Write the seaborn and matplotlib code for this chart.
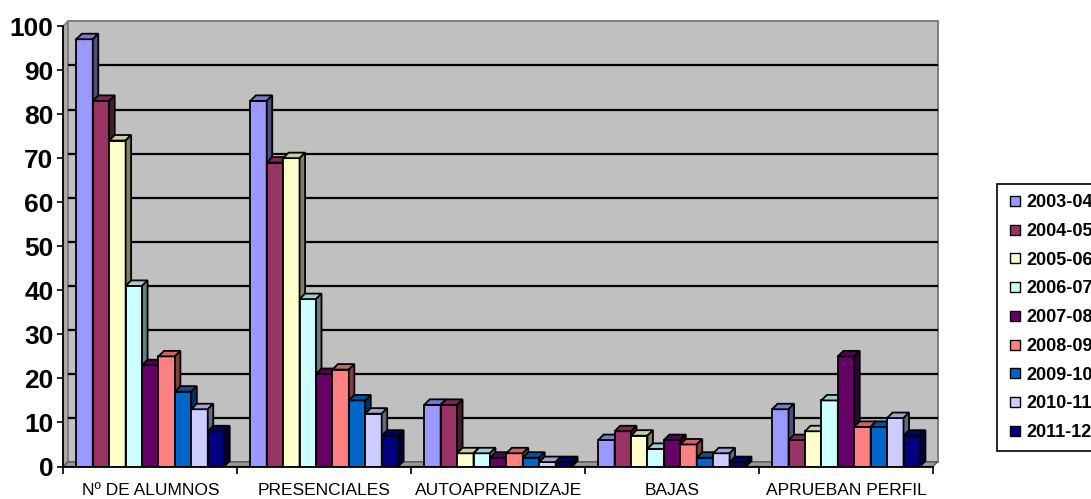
import numpy as np
import pandas as pd
import matplotlib
matplotlib.use("Agg")
import matplotlib.pyplot as plt
from matplotlib.patches import Polygon, Rectangle
from matplotlib.lines import Line2D
from matplotlib.colors import to_rgb
import seaborn as sns

# ---- data ----
categories = ["Nº DE ALUMNOS", "PRESENCIALES", "AUTOAPRENDIZAJE", "BAJAS", "APRUEBAN PERFIL"]
courses = ["2003-04", "2004-05", "2005-06", "2006-07", "2007-08",
           "2008-09", "2009-10", "2010-11", "2011-12"]
v_2003_04 = [97, 83, 14, 6, 13]
v_2004_05 = [83, 69, 14, 8, 6]
v_2005_06 = [74, 70, 3, 7, 8]
v_2006_07 = [41, 38, 3, 4, 15]
v_2007_08 = [23, 21, 2, 6, 25]
v_2008_09 = [25, 22, 3, 5, 9]
v_2009_10 = [17, 15, 2, 2, 9]
v_2010_11 = [13, 12, 1, 3, 11]
v_2011_12 = [8, 7, 1, 1, 7]
series = [v_2003_04, v_2004_05, v_2005_06, v_2006_07, v_2007_08,
          v_2008_09, v_2009_10, v_2010_11, v_2011_12]
y_ticks = [0, 10, 20, 30, 40, 50, 60, 70, 80, 90, 100]

colors = ["#9999FF", "#993366", "#FFFFCC", "#CCFFFF", "#660066",
          "#FF8080", "#0066CC", "#CCCCFF", "#000080"]

rows = []
for course, vals in zip(courses, series):
    for cat, v in zip(categories, vals):
        rows.append({"categoria": cat, "curso": course, "valor": v})
df = pd.DataFrame(rows)

plt.rcParams["font.family"] = ["Liberation Sans", "DejaVu Sans"]

W, H = 1091, 499
fig = plt.figure(figsize=(W / 100, H / 100), dpi=100)
ax_left, ax_right, ax_bottom, ax_top = 63.3, 933.0, 466.5, 26.0
ax = fig.add_axes([ax_left / W, (H - ax_bottom) / H,
                   (ax_right - ax_left) / W, (ax_bottom - ax_top) / H])
ax.set_facecolor("none")

sns.barplot(data=df, x="categoria", y="valor", hue="curso", order=categories,
            hue_order=courses, palette=colors, saturation=1, width=0.85, gap=0,
            edgecolor="black", linewidth=1.3, legend=False, ax=ax)
bars = sorted([p for p in ax.patches if isinstance(p, Rectangle)],
              key=lambda p: p.get_x())

ax.set_xlim(-0.5, 4.5)
ax.set_ylim(0, 100)


def px_to_data(dx, dy):
    p0 = ax.transData.transform((0, 0))
    q = ax.transData.inverted().transform(p0 + np.array([dx, dy]))
    return q[0], q[1]


# walls and floor of the 3D box
wdx, wdy = px_to_data(4.5, 4.6)
wall_edge = "#7F7F7F"
ax.add_patch(Rectangle((-0.5 + wdx, wdy), 5, 100, facecolor="#C0C0C0",
                       edgecolor=wall_edge, linewidth=1.4, zorder=0.1, clip_on=False))
ax.add_patch(Polygon([(-0.5, 0), (-0.5, 100), (-0.5 + wdx, 100 + wdy), (-0.5 + wdx, wdy)],
                     closed=True, facecolor="#ABABAB", edgecolor=wall_edge,
                     linewidth=1.2, zorder=0.15, clip_on=False))
for v in y_ticks[1:-1]:
    ax.plot([-0.5 + wdx, 4.5 + wdx], [v + wdy, v + wdy], color="black",
            linewidth=1.6, zorder=0.2, clip_on=False, solid_capstyle="butt")
ax.add_patch(Polygon([(-0.5, 0), (4.5, 0), (4.5 + wdx, wdy), (-0.5 + wdx, wdy)],
                     closed=True, facecolor="#999999", edgecolor="#555555",
                     linewidth=1.0, zorder=0.3, clip_on=False))


def shade(c, f):
    r, g, b = to_rgb(c)
    return (r * f, g * f, b * f)


# depth faces for each column
bdx, bdy = px_to_data(5.5, 5.5)
for i, p in enumerate(bars):
    x0, w, h = p.get_x(), p.get_width(), p.get_height()
    fc = p.get_facecolor()
    z = 2 + i * 0.01
    p.set_zorder(z)
    top = Polygon([(x0, h), (x0 + w, h), (x0 + w + bdx, h + bdy), (x0 + bdx, h + bdy)],
                  closed=True, facecolor=shade(fc, 0.8), edgecolor="black",
                  linewidth=1.3, zorder=z, clip_on=False)
    side = Polygon([(x0 + w, 0), (x0 + w, h), (x0 + w + bdx, h + bdy), (x0 + w + bdx, bdy)],
                   closed=True, facecolor=shade(fc, 0.5), edgecolor="black",
                   linewidth=1.3, zorder=z, clip_on=False)
    ax.add_patch(top)
    ax.add_patch(side)

# axes lines and ticks
for s in ["top", "right"]:
    ax.spines[s].set_visible(False)
for s in ["left", "bottom"]:
    ax.spines[s].set_color("black")
    ax.spines[s].set_linewidth(1.3)
    ax.spines[s].set_zorder(5)

ax.set_yticks(y_ticks)
ax.set_yticklabels([str(t) for t in y_ticks], fontsize=19, fontweight="bold")
ax.tick_params(axis="y", direction="out", length=4, width=1.2, pad=3, colors="black")

ax.set_xticks(range(len(categories)))
ax.set_xticklabels(categories, fontsize=12.5)
ax.set_xticks(np.arange(-0.5, len(categories)), minor=True)
ax.tick_params(axis="x", which="major", length=0, pad=12)
ax.tick_params(axis="x", which="minor", direction="out", length=5, width=1.2)
ax.set_xlabel("")
ax.set_ylabel("")

handles = [Line2D([], [], linestyle="none", marker="s", markersize=6.6,
                  markerfacecolor=c, markeredgecolor="black", markeredgewidth=1.0)
           for c in colors]
leg = fig.legend(handles, courses, loc="upper left",
                 bbox_to_anchor=(997.3 / W, 1 - 184.3 / H),
                 prop={"weight": "bold", "size": 13},
                 frameon=True, fancybox=False, framealpha=1, edgecolor="black",
                 borderpad=0.55, handlelength=0.86, handletextpad=0.18,
                 labelspacing=0.65, borderaxespad=0)
leg.get_frame().set_linewidth(1.2)

fig.savefig("out.png", dpi=100)
